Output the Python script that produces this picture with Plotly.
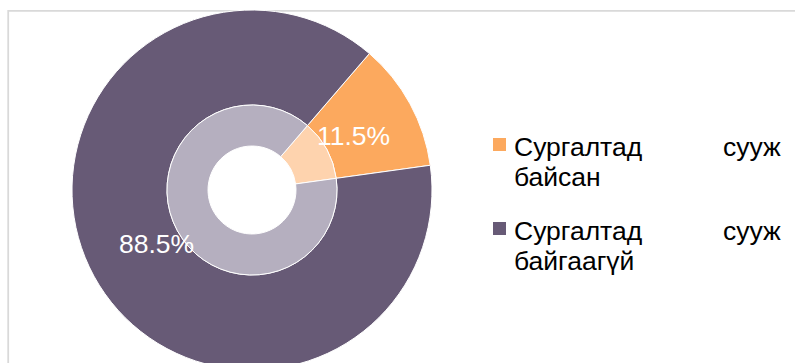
import math
import plotly.graph_objects as go

# Share of respondents, by whether they took part in training
categories = ["Сургалтад сууж байсан", "Сургалтад сууж байгаагүй"]
shares = [11.5, 88.5]

outer_colors = ["#FCA95E", "#675A76"]
inner_colors = ["#FED3AE", "#B5AFBF"]

# Canvas and ring geometry (pixels)
W, H = 795, 372
CX, CY = 252, 190
R_OUT, R_MID, R_HOLE = 180, 85, 44
START_ANGLE = 40.7
LABEL_R = 112
FONT = "Liberation Sans, Arial, sans-serif"


def px_x(x):
    return x / W


def px_y(y):
    return 1 - y / H


def ring_domain(r):
    return dict(x=[px_x(CX - r), px_x(CX + r)], y=[px_y(CY + r), px_y(CY - r)])


fig = go.Figure()

# outer ring
fig.add_trace(go.Pie(
    labels=categories, values=shares, sort=False, direction="clockwise",
    rotation=START_ANGLE, hole=R_MID / R_OUT, domain=ring_domain(R_OUT),
    marker=dict(colors=outer_colors, line=dict(color="white", width=1)),
    textinfo="none", hoverinfo="label+percent", showlegend=False,
))
# inner, lighter ring
fig.add_trace(go.Pie(
    labels=categories, values=shares, sort=False, direction="clockwise",
    rotation=START_ANGLE, hole=R_HOLE / R_MID, domain=ring_domain(R_MID),
    marker=dict(colors=inner_colors, line=dict(color="white", width=1)),
    textinfo="none", hoverinfo="label+percent", showlegend=False,
))

annotations = []
shapes = []

# percentage labels on the slice mid-angles
total = sum(shares)
cum = 0.0
for v in shares:
    mid = math.radians(START_ANGLE + 360 * (cum + v / 2) / total)
    cum += v
    lx = CX + LABEL_R * math.sin(mid)
    ly = CY - LABEL_R * math.cos(mid)
    annotations.append(dict(
        x=px_x(lx), y=px_y(ly), xref="paper", yref="paper", xshift=3,
        text=f"{v:.1f}%", showarrow=False, xanchor="center", yanchor="middle",
        font=dict(family=FONT, size=26.5, color="white"),
    ))

# legend: colour square + justified two-line label
SQ = 13
SQ_X = 499.5
SQ_Y = [144.5, 228.5]
TEXT_X0, TEXT_X1 = 511.5, 783
LINE_GAP = 30
FS_LEG = 26.5
for name, col, sy in zip(categories, outer_colors, SQ_Y):
    shapes.append(dict(
        type="rect", xref="paper", yref="paper",
        x0=px_x(SQ_X - SQ / 2), x1=px_x(SQ_X + SQ / 2),
        y0=px_y(sy + SQ / 2), y1=px_y(sy - SQ / 2),
        fillcolor=col, line=dict(width=0),
    ))
    words = name.split(" ")
    line1_left, line1_right, line2 = words[0], " ".join(words[1:-1]), words[-1]
    y1 = sy + 2.5
    y2 = y1 + LINE_GAP
    for txt, x, anchor, y in [
        (line1_left, TEXT_X0, "left", y1),
        (line1_right, TEXT_X1, "right", y1),
        (line2, TEXT_X0, "left", y2),
    ]:
        annotations.append(dict(
            x=px_x(x), y=px_y(y), xref="paper", yref="paper", text=txt,
            showarrow=False, xanchor=anchor, yanchor="middle",
            font=dict(family=FONT, size=FS_LEG, color="#000000"),
        ))

# chart-area frame
shapes.append(dict(
    type="rect", xref="paper", yref="paper", layer="below",
    x0=px_x(8.2), x1=px_x(W + 6), y0=px_y(H + 6), y1=px_y(10.8),
    line=dict(color="#D9D9D9", width=1.75), fillcolor="rgba(0,0,0,0)",
))

fig.update_layout(
    width=W, height=H,
    margin=dict(l=0, r=0, t=0, b=0),
    paper_bgcolor="white", plot_bgcolor="white",
    annotations=annotations, shapes=shapes,
    font=dict(family=FONT),
)

fig.write_html(
    "out.html",
    post_script="document.documentElement.style.overflow='hidden';document.body.style.overflow='hidden';",
)
